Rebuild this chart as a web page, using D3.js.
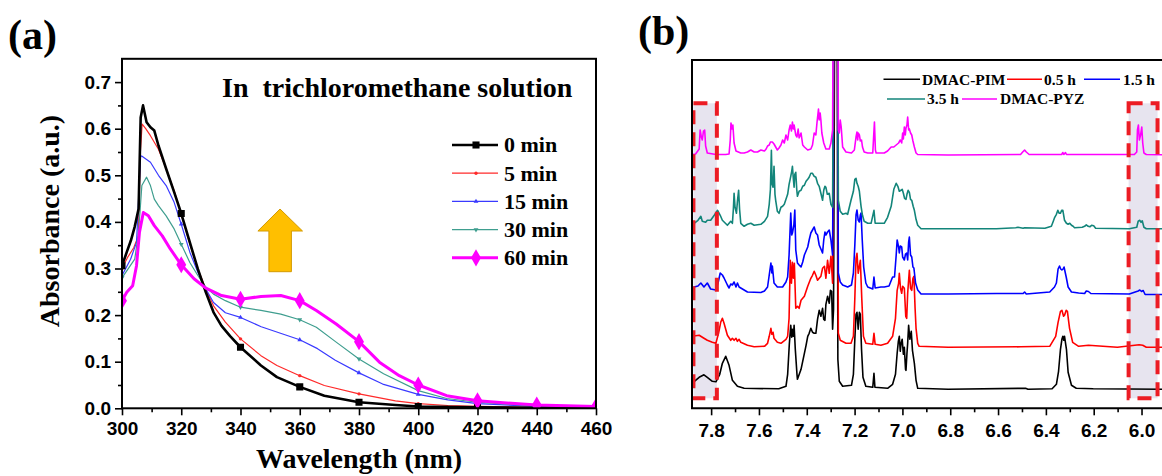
<!DOCTYPE html>
<html>
<head>
<meta charset="utf-8">
<script src="https://cdn.jsdelivr.net/npm/d3@7"></script>
<style>
  body { margin: 0; background: #fff; }
  svg text { font-family: "Liberation Serif", "Times New Roman", serif; font-weight: bold; fill: #000; }
  .tick text { font-family: "Liberation Sans", Arial, sans-serif; font-weight: bold; }
</style>
</head>
<body>
<svg id="chart" width="1162" height="476"></svg>
<script>
// ---- panel (a): UV-vis absorbance, [wavelength nm, absorbance] ----
var uv0 = [[300,0.306],[301.6,0.335],[303,0.36],[304.3,0.39],[305.6,0.428],[306.3,0.624],[307.1,0.65],[308.3,0.614],[309.6,0.603],[310.9,0.596],[312.3,0.564],[314.9,0.514],[317.6,0.464],[320,0.418],[322.9,0.356],[325.6,0.299],[328.3,0.249],[330.9,0.206],[333.6,0.177],[336.5,0.155],[340,0.131],[346.9,0.092],[352.3,0.067],[360,0.046],[368.3,0.027],[380,0.013],[392.3,0.007],[400,0.004],[420,0.002],[440,0.001],[460,0.001]];
var uv5 = [[300,0.30],[302,0.325],[304,0.345],[305.5,0.37],[306.2,0.55],[306.8,0.61],[308,0.6],[309.6,0.585],[312.3,0.556],[314.9,0.514],[317.6,0.467],[320,0.416],[322.9,0.353],[325.6,0.299],[328.3,0.256],[330.9,0.22],[334.9,0.185],[340,0.149],[346.9,0.113],[352.3,0.092],[360,0.07],[368.3,0.049],[380,0.031],[392.3,0.016],[400,0.01],[410,0.006],[420,0.004],[440,0.002],[460,0.001]];
var uv15 = [[300,0.285],[302.9,0.32],[304.9,0.356],[305.6,0.45],[306.3,0.542],[307,0.54],[309.6,0.528],[312.3,0.5],[314.9,0.478],[317.6,0.442],[320,0.395],[322.9,0.335],[325.6,0.292],[328.3,0.256],[330.9,0.227],[334.9,0.205],[340,0.195],[347,0.175],[354,0.16],[360,0.147],[366,0.128],[372,0.103],[380,0.076],[388,0.052],[400,0.03],[410,0.018],[420,0.01],[440,0.004],[460,0.002]];
var uv30 = [[300,0.28],[304.3,0.32],[305.6,0.378],[306.7,0.478],[308.3,0.496],[309.6,0.478],[310.9,0.449],[312.3,0.435],[314.9,0.413],[317.6,0.385],[320,0.352],[322.9,0.313],[325.6,0.285],[328.3,0.26],[330.9,0.245],[334.9,0.231],[340,0.217],[346.9,0.21],[353.6,0.202],[360,0.19],[365.6,0.174],[372.3,0.142],[380,0.106],[388.3,0.074],[400,0.038],[409.6,0.021],[420,0.013],[440,0.005],[460,0.002]];
var uv60 = [[300,0.231],[301.6,0.249],[303.6,0.263],[304.9,0.306],[305.9,0.378],[307.2,0.42],[308.9,0.413],[310.9,0.392],[313.6,0.37],[316.3,0.342],[320,0.308],[324.3,0.278],[328.3,0.258],[333.6,0.242],[340,0.234],[346.9,0.24],[353.6,0.242],[360,0.231],[365.6,0.21],[372.3,0.181],[380,0.143],[386.9,0.099],[393.6,0.07],[400,0.05],[409.6,0.027],[420,0.016],[440,0.007],[460,0.004]];

var uvNames = ["0 min", "5 min", "15 min", "30 min", "60 min"];
var uvColors = ["#000000", "#ff2a2a", "#3a3aff", "#3f9e8f", "#ff00ff"];
var uvWidths = [2.6, 1.2, 1.2, 1.2, 3];
var uvTicksX = [300, 320, 340, 360, 380, 400, 420, 440, 460];
var uvTicksY = [0.0, 0.1, 0.2, 0.3, 0.4, 0.5, 0.6, 0.7];

// ---- panel (b): 1H NMR, [ppm, intensity above own baseline] ----
var nmrPIM = [[7.88,0.6],[7.85,1.2],[7.83,1.45],[7.816,1.2],[7.795,0.8],[7.78,0.75],[7.764,1.5],[7.753,2.6],[7.739,3.3],[7.725,2.4],[7.711,0.9],[7.69,0.3],[7.662,0.1],[7.517,0.05],[7.487,0.3],[7.48,1.5],[7.473,4.5],[7.467,6.4],[7.463,5.2],[7.46,6.0],[7.456,5.3],[7.453,6.4],[7.448,4.0],[7.441,1.5],[7.439,1.0],[7.424,2.0],[7.41,3.6],[7.403,4.4],[7.396,5.3],[7.39,5.6],[7.383,6.1],[7.376,5.7],[7.369,5.6],[7.362,5.6],[7.355,7.0],[7.348,7.9],[7.341,7.3],[7.334,8.1],[7.329,7.0],[7.324,6.9],[7.32,8.5],[7.313,9.3],[7.306,8.6],[7.301,9.9],[7.296,9.8],[7.292,6.0],[7.288,8],[7.283,40],[7.273,40],[7.27,3],[7.264,0.8],[7.25,0.3],[7.213,0.4],[7.205,1.5],[7.199,5.0],[7.194,7.5],[7.19,7.7],[7.185,6.0],[7.18,7.7],[7.176,7.5],[7.171,4],[7.165,1.2],[7.153,0.3],[7.124,0.2],[7.119,1.6],[7.115,0.2],[7.062,0.1],[7.041,0.5],[7.029,1.5],[7.022,3.6],[7.017,4.8],[7.013,5.3],[7.009,3.8],[7.006,4.5],[7.001,5.0],[6.996,3.5],[6.992,4.2],[6.987,2.0],[6.985,1.9],[6.981,3.6],[6.978,4.6],[6.974,6.4],[6.969,5.0],[6.963,5.8],[6.958,3.9],[6.95,2.6],[6.943,0.9],[6.936,0.1],[6.809,0],[6.485,0.1],[6.475,0],[6.374,0.05],[6.356,0.5],[6.347,1.8],[6.339,4.0],[6.333,5.0],[6.329,5.3],[6.325,4.9],[6.322,5.3],[6.314,4.0],[6.307,1.7],[6.293,0.4],[6.273,0.1],[6.202,0.05],[5.86,0]];
var nmr05 = [[7.88,1.2],[7.85,1.3],[7.83,1.0],[7.816,0.8],[7.795,0.6],[7.78,0.5],[7.769,1.5],[7.76,2.6],[7.753,3.0],[7.746,2.5],[7.732,1.3],[7.718,0.8],[7.711,1.0],[7.704,0.8],[7.696,1.0],[7.69,0.7],[7.683,0.9],[7.676,0.6],[7.648,0.3],[7.62,0.15],[7.577,0.2],[7.564,0.5],[7.557,1.2],[7.55,2.0],[7.546,1.4],[7.541,1.6],[7.537,1.0],[7.523,0.6],[7.508,0.5],[7.487,0.9],[7.48,1.2],[7.474,3.0],[7.469,8.8],[7.464,6.5],[7.46,8.6],[7.456,7.0],[7.452,8.5],[7.446,4.0],[7.439,4.2],[7.432,4.0],[7.424,4.8],[7.41,5.2],[7.396,6.2],[7.383,7.0],[7.376,7.3],[7.369,7.7],[7.362,7.3],[7.355,6.8],[7.348,7.0],[7.341,7.2],[7.334,8.0],[7.326,8.2],[7.32,7.0],[7.313,8.8],[7.306,7.5],[7.299,9.2],[7.292,6.5],[7.285,38],[7.272,38],[7.268,1.5],[7.26,0.8],[7.236,0.5],[7.215,0.5],[7.205,1.2],[7.199,5.0],[7.194,9.0],[7.19,9.5],[7.185,7.5],[7.18,8.2],[7.176,8.8],[7.17,5.0],[7.163,1.2],[7.153,0.5],[7.124,0.4],[7.119,1.5],[7.114,0.4],[7.09,0.3],[7.062,0.5],[7.041,1.2],[7.029,3.0],[7.022,5.8],[7.016,6.5],[7.013,7.5],[7.008,6.0],[7.003,5.5],[6.999,6.2],[6.992,6.0],[6.986,3.2],[6.982,3.0],[6.978,5.5],[6.971,7.8],[6.966,6.0],[6.961,5.8],[6.956,7.0],[6.952,7.2],[6.947,4.0],[6.943,2.0],[6.936,0.5],[6.93,0.2],[6.809,0.1],[6.506,0.15],[6.384,0.2],[6.359,1.2],[6.349,2.6],[6.339,3.7],[6.333,3.8],[6.326,3.2],[6.322,3.3],[6.315,3.8],[6.31,3.7],[6.301,2.0],[6.288,0.6],[6.263,0.2],[6.222,0.3],[6.101,0.1],[6.01,0.35],[5.995,0.3],[5.98,0.1],[5.86,0.1]];
var nmr15 = [[7.88,0.5],[7.871,0.8],[7.855,0.9],[7.843,1.2],[7.83,0.8],[7.816,1.2],[7.802,0.6],[7.78,0.5],[7.771,1.2],[7.762,2.2],[7.753,2.0],[7.746,1.7],[7.732,1.0],[7.725,0.7],[7.718,1.1],[7.711,1.0],[7.704,1.3],[7.696,0.8],[7.69,1.2],[7.683,0.8],[7.676,0.7],[7.648,0.3],[7.592,0.25],[7.577,0.4],[7.564,0.8],[7.557,2.0],[7.55,3.2],[7.546,2.2],[7.544,2.9],[7.537,1.2],[7.523,0.8],[7.501,0.8],[7.487,1.3],[7.48,1.8],[7.474,4.0],[7.467,8.2],[7.463,6.0],[7.46,6.2],[7.454,7.0],[7.45,8.5],[7.446,4.5],[7.439,3.2],[7.432,3.0],[7.424,2.8],[7.417,3.3],[7.41,4.0],[7.396,4.8],[7.39,5.5],[7.383,6.2],[7.376,6.5],[7.369,6.8],[7.362,6.2],[7.355,6.0],[7.348,5.0],[7.341,4.6],[7.334,4.2],[7.329,5.5],[7.324,6.3],[7.32,6.0],[7.313,6.3],[7.306,6.5],[7.299,5.5],[7.292,4.0],[7.285,36],[7.272,36],[7.268,2.2],[7.26,1.3],[7.25,1.0],[7.229,0.8],[7.213,1.0],[7.205,2.2],[7.199,5.0],[7.194,8.0],[7.19,8.5],[7.185,7.5],[7.18,7.3],[7.176,8.0],[7.173,8.2],[7.168,5.5],[7.162,2.8],[7.153,1.2],[7.145,0.8],[7.124,0.6],[7.119,1.8],[7.114,0.7],[7.09,0.8],[7.076,0.8],[7.056,0.9],[7.041,1.8],[7.033,1.8],[7.026,4.0],[7.022,5.5],[7.016,4.8],[7.013,4.2],[7.009,4.9],[7.003,4.8],[6.999,3.8],[6.992,3.5],[6.987,4.1],[6.982,4.2],[6.978,3.5],[6.974,5.3],[6.971,5.8],[6.966,4.0],[6.961,3.8],[6.956,2.8],[6.952,2.7],[6.945,1.2],[6.936,0.5],[6.922,0.1],[6.809,0.1],[6.607,0.15],[6.495,0.15],[6.489,0.3],[6.482,0.1],[6.384,0.3],[6.364,0.8],[6.356,1.2],[6.349,2.6],[6.343,2.9],[6.338,2.6],[6.333,2.5],[6.328,2.6],[6.324,2.8],[6.315,1.8],[6.307,0.8],[6.293,0.3],[6.263,0.2],[6.238,0.15],[6.231,0.4],[6.222,0.35],[6.212,0.15],[6.051,0.1],[6.014,0.4],[6.007,0.5],[6.0,0.35],[5.993,0.45],[5.985,0.05],[5.86,0.05]];
var nmr35 = [[7.88,0.5],[7.871,0.6],[7.855,0.9],[7.843,1.3],[7.837,0.8],[7.823,0.7],[7.816,0.9],[7.802,0.9],[7.787,1.4],[7.773,1.9],[7.762,1.4],[7.753,0.9],[7.732,0.4],[7.718,0.8],[7.711,0.6],[7.707,2.0],[7.704,3.6],[7.7,2.2],[7.694,1.6],[7.69,2.8],[7.685,3.9],[7.681,2.0],[7.676,0.6],[7.662,0.3],[7.648,0.5],[7.634,0.6],[7.62,0.4],[7.592,0.5],[7.577,0.8],[7.564,1.3],[7.557,2.5],[7.552,4.0],[7.548,7.9],[7.545,4.5],[7.541,4.2],[7.537,6.3],[7.533,3.5],[7.53,2.9],[7.523,1.8],[7.516,1.6],[7.508,2.2],[7.501,2.3],[7.494,2.5],[7.487,3.0],[7.48,3.5],[7.474,4.5],[7.467,5.3],[7.463,5.8],[7.46,6.3],[7.456,5.0],[7.453,4.2],[7.45,5.5],[7.446,5.7],[7.442,4.0],[7.439,3.3],[7.432,3.8],[7.424,3.9],[7.417,4.3],[7.41,4.4],[7.403,4.8],[7.396,5.0],[7.39,5.2],[7.383,5.6],[7.376,5.6],[7.369,5.3],[7.362,5.2],[7.355,4.6],[7.348,4.3],[7.341,3.6],[7.334,2.9],[7.329,3.9],[7.324,4.3],[7.32,4.2],[7.314,3.5],[7.306,3.6],[7.299,2.5],[7.292,2.2],[7.285,36],[7.272,36],[7.268,2.9],[7.26,1.8],[7.25,1.5],[7.236,1.6],[7.229,1.5],[7.215,2.9],[7.205,3.8],[7.199,5.0],[7.194,5.1],[7.19,4.6],[7.185,4.3],[7.18,3.8],[7.173,2.3],[7.167,1.4],[7.16,0.8],[7.145,0.6],[7.131,0.6],[7.119,1.9],[7.114,0.6],[7.09,0.6],[7.076,0.6],[7.062,1.2],[7.047,2.3],[7.036,4.0],[7.026,4.6],[7.019,4.3],[7.013,3.8],[7.006,3.9],[7.001,4.0],[6.996,3.6],[6.991,3.1],[6.985,3.0],[6.981,3.5],[6.976,3.9],[6.971,3.7],[6.966,3.0],[6.961,2.9],[6.955,2.3],[6.95,1.9],[6.943,1.0],[6.936,0.4],[6.922,0.05],[6.809,0.05],[6.607,0.05],[6.526,0.15],[6.517,0.2],[6.495,0.1],[6.489,0.15],[6.404,0.1],[6.377,0.3],[6.369,0.8],[6.363,1.2],[6.356,1.5],[6.35,1.9],[6.344,1.6],[6.339,1.6],[6.334,1.9],[6.329,1.9],[6.322,0.9],[6.314,0.6],[6.307,0.5],[6.3,0.6],[6.293,0.4],[6.286,0.3],[6.28,0.15],[6.248,0.2],[6.238,0.3],[6.231,0.45],[6.223,0.3],[6.216,0.25],[6.209,0.4],[6.2,0.35],[6.192,0.1],[6.051,0.05],[6.02,0.2],[6.014,0.8],[6.007,0.9],[6.002,0.7],[5.997,0.85],[5.99,0.2],[5.98,0.05],[5.86,0.05]];
var nmrPYZ = [[7.88,0.05],[7.865,0.1],[7.85,0.6],[7.846,2.5],[7.841,1.8],[7.837,1.5],[7.832,2.4],[7.827,2.5],[7.823,0.9],[7.816,0.2],[7.78,0.05],[7.739,0.05],[7.725,0.1],[7.72,1.5],[7.717,3.2],[7.713,2.6],[7.709,3.0],[7.704,1.2],[7.696,0.4],[7.676,0.2],[7.662,0.2],[7.648,0.3],[7.634,0.5],[7.62,0.3],[7.606,0.3],[7.592,0.5],[7.577,0.4],[7.57,0.6],[7.564,0.9],[7.557,1.0],[7.552,1.3],[7.544,1.3],[7.537,1.1],[7.53,0.8],[7.523,0.5],[7.516,0.7],[7.508,1.0],[7.501,1.5],[7.494,1.2],[7.487,2.0],[7.48,1.5],[7.474,2.5],[7.469,3.0],[7.464,2.4],[7.46,3.3],[7.456,2.6],[7.453,3.0],[7.446,2.0],[7.441,1.8],[7.436,2.6],[7.432,1.7],[7.424,2.2],[7.417,1.0],[7.41,0.8],[7.396,0.5],[7.383,0.6],[7.376,1.0],[7.369,2.2],[7.362,2.0],[7.357,3.3],[7.351,4.6],[7.348,3.5],[7.344,4.2],[7.341,3.5],[7.337,2.2],[7.329,1.2],[7.32,0.6],[7.306,0.6],[7.299,1.2],[7.292,2.5],[7.286,34],[7.272,34],[7.268,2.5],[7.264,2.2],[7.26,3.5],[7.256,2.8],[7.25,0.8],[7.236,0.3],[7.213,0.2],[7.201,0.5],[7.194,1.8],[7.19,2.3],[7.187,1.5],[7.185,2.2],[7.18,2.0],[7.176,1.4],[7.171,1.5],[7.167,0.8],[7.16,0.3],[7.145,0.2],[7.124,0.2],[7.12,2.0],[7.117,3.3],[7.113,0.5],[7.11,0.2],[7.076,0.2],[7.062,0.4],[7.047,0.8],[7.036,0.8],[7.026,1.0],[7.016,1.2],[7.009,1.5],[7.003,1.2],[6.999,2.2],[6.996,1.6],[6.992,2.8],[6.988,2.0],[6.985,2.7],[6.981,3.0],[6.978,3.8],[6.974,2.5],[6.971,2.6],[6.966,2.2],[6.961,2.0],[6.956,1.4],[6.95,0.8],[6.943,0.2],[6.936,0.05],[6.809,0],[6.506,0.05],[6.497,0.3],[6.489,0.5],[6.482,0.3],[6.47,0.05],[6.334,0.05],[6.329,0.25],[6.325,0.05],[6.318,0.25],[6.314,0.05],[6.03,0.05],[6.02,0.3],[6.017,2.5],[6.013,3.0],[6.009,1.5],[6.004,2.0],[5.999,2.8],[5.995,1.2],[5.99,0.2],[5.98,0.05],[5.86,0]];

var nmrNames = ["DMAC-PIM", "0.5 h", "1.5 h", "3.5 h", "DMAC-PYZ"];
var nmrColors = ["#000000", "#ff0000", "#0000ff", "#13857a", "#ff00ff"];
var nmrOffsets = [0, 4.1, 9.43, 16.0, 23.43];
var nmrTicks = [7.8, 7.6, 7.4, 7.2, 7.0, 6.8, 6.6, 6.4, 6.2, 6.0];
var nmrMinor = [7.7, 7.5, 7.3, 7.1, 6.9, 6.7, 6.5, 6.3, 6.1, 5.9];
var nmrBoxes = [[7.874, 7.776], [6.054, 5.933]];

var svg = d3.select('#chart');
svg.append('rect').attr('width', 1162).attr('height', 476).attr('fill', '#fff');

// ================= panel (a) =================
var ax = d3.scaleLinear().domain([300, 460]).range([122, 596]);
var ay = d3.scaleLinear().domain([0, 0.75]).range([408.3, 58.8]);
var pa = svg.append('g');

pa.append('clipPath').attr('id', 'clipA')
  .append('rect').attr('x', 122).attr('y', 58.8).attr('width', 474).attr('height', 349.5);

// minor ticks first, then major
pa.append('g').attr('transform', 'translate(0,408.3)')
  .call(d3.axisBottom(ax).tickValues(d3.range(310, 460, 20)).tickSize(4).tickFormat('').tickSizeOuter(0));
pa.append('g').attr('transform', 'translate(122,0)')
  .call(d3.axisLeft(ay).tickValues([0.05, 0.15, 0.25, 0.35, 0.45, 0.55, 0.65]).tickSize(4).tickFormat('').tickSizeOuter(0));
var axA = pa.append('g').attr('transform', 'translate(0,408.3)')
  .call(d3.axisBottom(ax).tickValues(uvTicksX).tickSize(7).tickPadding(6).tickSizeOuter(0).tickFormat(d3.format('d')));
var ayA = pa.append('g').attr('transform', 'translate(122,0)')
  .call(d3.axisLeft(ay).tickValues(uvTicksY).tickSize(7).tickPadding(4).tickSizeOuter(0).tickFormat(d3.format('.1f')));
axA.selectAll('text').style('font-size', '19px');
ayA.selectAll('text').style('font-size', '19px');
pa.selectAll('.tick line').attr('stroke-width', 1.6);

var uvSeries = [uv0, uv5, uv15, uv30, uv60];
var uvLine = d3.line().x(function (d) { return ax(d[0]); }).y(function (d) { return ay(d[1]); });
var curves = pa.append('g').attr('clip-path', 'url(#clipA)');

// marker shapes per series
var uvSymbols = [
  d3.symbol().type(d3.symbolSquare).size(50),
  d3.symbol().type(d3.symbolCircle).size(9),
  d3.symbol().type(d3.symbolTriangle).size(10),
  d3.symbol().type(d3.symbolTriangle).size(10),
  d3.symbol().type(d3.symbolDiamond).size(85)
];
var uvRot = [0, 0, 0, 180, 0];

// thin ones first, black over them, magenta last
[1, 2, 3, 0, 4].forEach(function (i) {
  curves.append('path')
    .datum(uvSeries[i])
    .attr('d', uvLine)
    .attr('fill', 'none')
    .attr('stroke', uvColors[i])
    .attr('stroke-width', uvWidths[i])
    .attr('stroke-linejoin', 'round');
  curves.selectAll(null)
    .data(uvSeries[i].filter(function (d) { return d[0] % 20 === 0; }))
    .enter()
    .append('path')
      .attr('d', uvSymbols[i])
      .attr('transform', function (d) { return 'translate(' + ax(d[0]) + ',' + ay(d[1]) + ') rotate(' + uvRot[i] + ')'; })
      .attr('fill', uvColors[i]);
});

pa.append('rect')
  .attr('x', 122).attr('y', 58.8).attr('width', 474).attr('height', 349.5)
  .attr('fill', 'none').attr('stroke', '#000').attr('stroke-width', 2);
pa.selectAll('.domain').remove();

// legend
var legA = pa.append('g');
uvNames.forEach(function (name, i) {
  var y = 145 + i * 28.2;
  legA.append('line')
    .attr('x1', 452).attr('x2', 498).attr('y1', y).attr('y2', y)
    .attr('stroke', uvColors[i]).attr('stroke-width', uvWidths[i]);
  legA.append('path')
    .attr('d', uvSymbols[i])
    .attr('transform', 'translate(476,' + y + ') rotate(' + uvRot[i] + ')')
    .attr('fill', uvColors[i]);
  legA.append('text')
    .attr('x', 504).attr('y', y).attr('dy', '0.34em')
    .style('font-size', '22px')
    .text(name);
});

pa.append('text')
  .attr('x', 222).attr('y', 97)
  .attr('xml:space', 'preserve')
  .style('font-size', '28px')
  .style('white-space', 'pre')
  .text('In  trichloromethane solution');

// arrow
pa.append('path')
  .attr('d', 'M280,209 L302.5,231 L291.4,231 L291.4,271.7 L268.9,271.7 L268.9,231 L257.9,231 Z')
  .attr('fill', '#ffbf00').attr('stroke', '#d49a00').attr('stroke-width', 1);

pa.append('text')
  .attr('x', 359).attr('y', 468)
  .attr('text-anchor', 'middle')
  .style('font-size', '28px')
  .text('Wavelength (nm)');
pa.append('text')
  .attr('transform', 'translate(59,221) rotate(-90)')
  .attr('text-anchor', 'middle')
  .style('font-size', '28px')
  .text('Absorbance (a.u.)');
pa.append('text')
  .attr('x', 8).attr('y', 49)
  .style('font-size', '42px')
  .text('(a)');

// ================= panel (b) =================
var bx = d3.scaleLinear().domain([7.88, 5.86]).range([692, 1175]);
var by = d3.scaleLinear().domain([-1.9, 32.93]).range([408.3, 60]);
var pb = svg.append('g');

pb.append('clipPath').attr('id', 'clipB')
  .append('rect').attr('x', 692).attr('y', 60).attr('width', 483).attr('height', 348.3);

// shaded regions
nmrBoxes.forEach(function (b) {
  pb.append('rect')
    .attr('x', bx(b[0])).attr('width', bx(b[1]) - bx(b[0]))
    .attr('y', by(28.6)).attr('height', by(-0.9) - by(28.6))
    .attr('fill', '#e7e4ef');
});

pb.append('g').attr('transform', 'translate(0,408.3)')
  .call(d3.axisBottom(bx).tickValues(nmrMinor).tickSize(4).tickFormat('').tickSizeOuter(0));
var axB = pb.append('g').attr('transform', 'translate(0,408.3)')
  .call(d3.axisBottom(bx).tickValues(nmrTicks).tickSize(7).tickPadding(8).tickSizeOuter(0).tickFormat(d3.format('.1f')));
axB.selectAll('text').style('font-size', '19px');
pb.selectAll('.tick line').attr('stroke-width', 1.6);
pb.selectAll('.domain').remove();

var nmrSeries = [nmrPIM, nmr05, nmr15, nmr35, nmrPYZ];
var spectra = pb.append('g').attr('clip-path', 'url(#clipB)');
nmrSeries.forEach(function (s, i) {
  var line = d3.line()
    .x(function (d) { return bx(d[0]); })
    .y(function (d) { return by(d[1] + nmrOffsets[i]); });
  spectra.append('path')
    .datum(s)
    .attr('d', line)
    .attr('fill', 'none')
    .attr('stroke', nmrColors[i])
    .attr('stroke-width', 1.6)
    .attr('stroke-linejoin', 'round');
});

nmrBoxes.forEach(function (b) {
  pb.append('rect')
    .attr('x', bx(b[0])).attr('width', bx(b[1]) - bx(b[0]))
    .attr('y', by(28.6)).attr('height', by(-0.9) - by(28.6))
    .attr('fill', 'none')
    .attr('stroke', '#ec1c24').attr('stroke-width', 4)
    .attr('stroke-dasharray', '14,8');
});

// frame: left, top, bottom (right side runs off the page)
pb.append('path')
  .attr('d', 'M1176,60 L692,60 L692,408.3 L1176,408.3')
  .attr('fill', 'none').attr('stroke', '#000').attr('stroke-width', 2);

// legend, two rows: [series, line start, line end, text x]
var legRows = [
  [[0, 883.5, 920, 922], [1, 1007, 1042, 1044], [2, 1084, 1120, 1123]],
  [[3, 887, 925, 927], [4, 962, 997, 1000]]
];
legRows.forEach(function (row, r) {
  var y = 79.3 + r * 19.7;
  row.forEach(function (it) {
    var i = it[0];
    pb.append('line')
      .attr('x1', it[1]).attr('x2', it[2]).attr('y1', y).attr('y2', y)
      .attr('stroke', nmrColors[i]).attr('stroke-width', 1.6);
    pb.append('text')
      .attr('x', it[3]).attr('y', y).attr('dy', '0.34em')
      .style('font-size', '15.5px')
      .text(nmrNames[i]);
  });
});

pb.append('text')
  .attr('x', 638).attr('y', 45)
  .style('font-size', '42px')
  .text('(b)');
</script>
</body>
</html>
